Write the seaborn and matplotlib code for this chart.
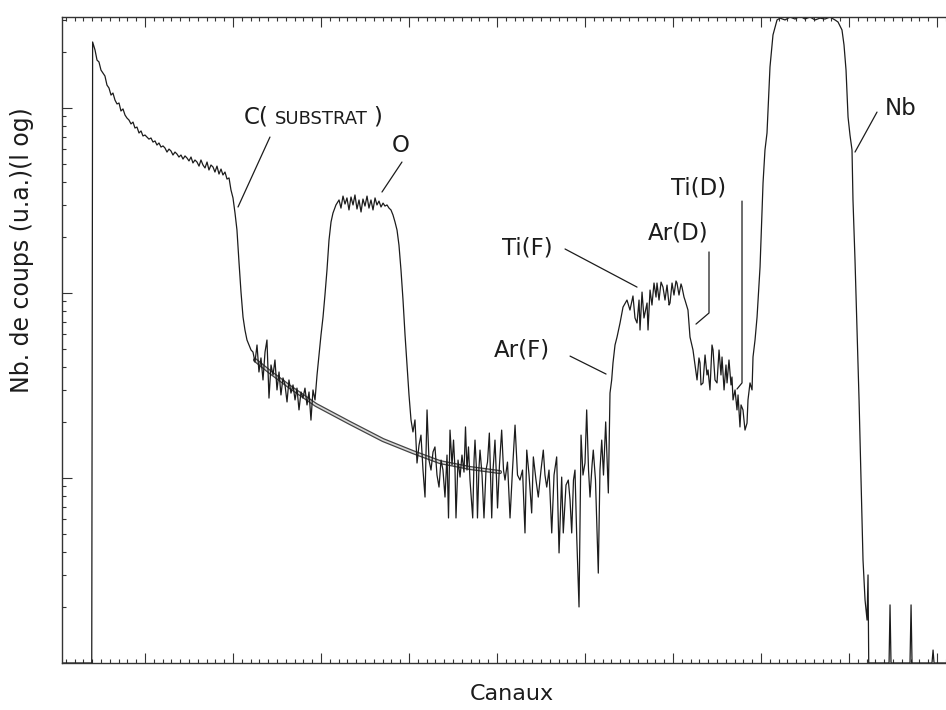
import numpy as np
import pandas as pd
import matplotlib
matplotlib.use("Agg")
import matplotlib.pyplot as plt
import seaborn as sns
from matplotlib.ticker import MultipleLocator, FixedLocator
from matplotlib.offsetbox import TextArea, HPacker, AnnotationBbox

# ---------------- data (channel, log10 counts, arbitrary units) ----------------
channels = [
    0, 39.5, 40.5, 43.2, 45.5, 47.7, 50.0, 52.3, 54.5, 56.8, 59.1, 61.4, 63.6, 65.9, 68.2,
    70.5, 72.7, 75.0, 77.3, 79.5, 81.8, 84.1, 86.4, 88.6, 90.9, 93.2, 95.5, 97.7, 100.0,
    102.3, 104.5, 106.8, 109.1, 111.4, 113.6, 115.9, 118.2, 120.5, 122.7, 125.0, 127.3,
    129.5, 131.8, 134.1, 136.4, 138.6, 140.9, 143.2, 145.5, 147.7, 150.0, 152.3, 154.5,
    156.8, 159.1, 161.4, 163.6, 165.9, 168.2, 170.5, 172.7, 175.0, 177.3, 179.5, 181.8,
    184.1, 186.4, 188.6, 190.9, 193.2, 195.5, 197.7, 200.0, 202.3, 204.5, 206.8, 209.1,
    211.4, 213.6, 215.9, 218.2, 220.5, 222.7,
    225.0, 227.3, 229.5, 231.8, 234.1, 236.4, 238.6, 240.9, 243.2, 245.5, 247.7, 250.0,
    252.3, 254.5, 256.8, 259.1, 261.4, 263.6, 265.9, 268.2, 270.5, 272.7, 275.0, 277.3,
    279.5, 281.8, 284.1, 286.4, 288.6, 290.9, 293.2,
    295.5, 297.7, 300.0, 302.3, 304.5, 306.8, 309.1, 311.4, 313.6, 317.0, 320.5, 322.7,
    325.0, 327.3, 329.5, 331.8, 334.1, 336.4, 338.6, 340.9, 343.2, 345.5, 347.7, 350.0,
    352.3, 354.5, 356.8, 359.1, 361.4, 363.6, 365.9, 368.2, 370.5, 372.7, 375.0, 377.3,
    379.5, 381.8, 384.1, 386.4, 388.6, 390.9, 393.2, 395.5, 397.7, 400.0, 402.3, 404.5,
    406.8, 409.1, 411.4, 413.6, 415.9, 418.2, 420.5, 422.7, 425.0, 427.3,
    429.5, 431.8, 434.1, 436.4, 438.6, 440.9, 443.2, 444.9, 446.6, 448.9,
    450.6, 452.3, 453.4, 455.7, 458.0, 460.2, 462.5, 464.2, 465.9, 467.6,
    469.3, 472.4, 473.9, 475.0, 476.7, 477.8, 479.5, 480.7, 483.0, 485.2,
    487.5, 489.2, 491.3, 494.0, 495.5, 497.7, 499.4, 500.6, 502.8, 505.3,
    507.4, 509.1, 511.9, 514.8, 517.6, 520.5, 523.3, 526.1, 529.0, 531.8,
    533.8, 536.4, 539.4, 541.3, 544.3, 546.9, 550.0, 552.6, 554.5, 556.5,
    559.1, 562.2, 564.8, 567.8, 570.5, 573.5, 575.3, 578.4, 581.0, 583.0,
    584.9, 586.9, 588.6, 590.6, 593.2, 595.5, 597.7, 600.0, 601.9, 604.0,
    605.7, 608.0, 609.4, 611.9, 615.1, 617.0, 619.0, 621.0, 623.5, 626.5,
    628.4, 630.3,
    631.8, 634.1, 636.4, 639.8, 643.2, 647.7, 651.1, 654.5, 656.8, 659.1,
    661.4, 662.5, 664.8, 667.0, 670.5, 671.6, 673.9, 676.1, 678.4, 680.7,
    681.8, 684.1, 686.4, 688.6, 690.9, 693.2, 695.5, 696.6, 698.9, 701.1,
    703.4, 704.5, 706.8, 709.1, 710.2, 712.5, 713.6, 717.0, 719.3, 722.7,
    725.0, 727.3, 729.5, 730.7, 731.8, 734.1, 736.4, 738.6, 739.8, 742.0,
    744.3, 745.5, 747.7, 750.0, 752.3, 754.5, 755.7, 758.0, 760.2, 761.4,
    763.6, 765.9, 767.0, 768.2, 770.5, 772.7, 773.9, 776.1, 777.3, 779.5,
    781.8, 784.1, 785.2, 787.5, 789.8, 790.9, 793.2, 795.5, 798.9, 802.3,
    804.5, 806.8, 810.2, 813.6, 818.2, 821.6, 827.3, 833.0, 838.6, 844.3,
    850.0, 855.7, 861.4, 867.0, 872.7, 878.4, 884.1, 887.5, 889.8, 892.0,
    894.3, 896.6, 898.9, 901.1, 903.4, 904.5, 906.8, 909.1, 911.4, 913.6,
    915.9, 918.2, 920.5, 921.6, 922.4,
    945.5, 946.6, 947.7, 969.3, 970.5, 971.6, 994.3, 995.5, 996.6, 1012,
]

log_counts = [
    0, 0, 3.357, 3.314, 3.259, 3.249, 3.205, 3.189, 3.173, 3.124, 3.108, 3.070, 3.081,
    3.043, 3.022, 3.027, 2.984, 2.995, 2.962, 2.946, 2.935, 2.914, 2.924, 2.892, 2.897,
    2.865, 2.876, 2.849,
    2.854, 2.843, 2.832, 2.838, 2.816, 2.822, 2.800, 2.811, 2.789, 2.795, 2.784, 2.762,
    2.778, 2.768, 2.746, 2.762, 2.751, 2.735, 2.746, 2.724, 2.741, 2.730, 2.714, 2.735,
    2.703, 2.719, 2.708, 2.686, 2.719, 2.692, 2.676, 2.708, 2.665, 2.692, 2.681, 2.654,
    2.686, 2.643, 2.670, 2.638, 2.654, 2.616,
    2.622, 2.557, 2.514, 2.432, 2.341, 2.168, 2.005, 1.870, 1.800, 1.746, 1.719, 1.692,
    1.681,
    1.627, 1.719, 1.573, 1.649, 1.530, 1.681, 1.746, 1.432, 1.611, 1.557, 1.638, 1.476,
    1.573, 1.449, 1.541, 1.503, 1.411, 1.530, 1.459, 1.503, 1.422, 1.486, 1.368, 1.465,
    1.432, 1.486, 1.395, 1.465, 1.313, 1.476, 1.422,
    1.557, 1.665, 1.773, 1.870, 1.989, 2.124, 2.286, 2.384, 2.432, 2.476, 2.503, 2.459,
    2.524, 2.481, 2.514, 2.449, 2.519, 2.476, 2.530, 2.454, 2.503, 2.438, 2.508, 2.470,
    2.524, 2.459, 2.503, 2.449, 2.514, 2.476, 2.497, 2.465, 2.486, 2.470, 2.476, 2.459,
    2.449, 2.422, 2.384, 2.340, 2.259, 2.124, 1.962, 1.773, 1.611, 1.449, 1.313, 1.249,
    1.314, 1.081, 1.178, 1.232, 1.043, 0.897, 1.368, 1.097, 1.043, 1.141,
    1.168, 1.016, 0.951, 1.097, 1.043, 0.897, 1.124, 0.784, 1.259, 1.070,
    1.205, 1.043, 0.784, 1.097, 1.005, 1.124, 1.032, 1.276, 1.043, 1.168,
    0.989, 0.784, 1.097, 1.205, 1.043, 0.784, 1.054, 1.151, 1.016, 0.784,
    1.043, 1.086, 1.243, 0.784, 1.043, 1.205, 1.000, 0.838, 1.070, 1.259,
    1.043, 0.989, 1.086, 0.784, 1.043, 1.286, 1.016, 0.989, 1.043, 0.703,
    1.151, 1.016, 0.811, 1.114, 0.989, 0.897, 1.043, 1.151, 1.016, 0.951,
    1.043, 0.703, 1.016, 1.114, 0.595, 1.005, 0.703, 0.962, 0.989, 0.881,
    0.703, 0.989, 1.043, 0.681, 0.303, 1.232, 1.016, 1.081, 1.368, 1.043,
    0.897, 1.070, 1.151, 0.989, 0.486, 1.043, 1.205, 1.016, 1.303, 0.919,
    1.459, 1.530,
    1.622, 1.719, 1.762, 1.838, 1.924, 1.962, 1.908, 1.984, 1.865, 1.838,
    1.962, 1.800, 2.005, 1.865, 1.946, 1.800, 2.016, 1.935, 2.054, 1.978,
    2.054, 1.962, 2.059, 2.032, 1.962, 2.043, 1.935, 1.946, 2.054, 1.989,
    2.065, 2.054, 1.989, 2.049, 2.032, 1.978, 1.962, 1.908, 1.762, 1.692,
    1.611, 1.530, 1.649, 1.622, 1.503, 1.514, 1.665, 1.557, 1.584, 1.476,
    1.719, 1.692, 1.530, 1.514, 1.692, 1.557, 1.654, 1.476, 1.611, 1.514,
    1.638, 1.503, 1.546, 1.422, 1.476, 1.368, 1.449, 1.276, 1.395, 1.368,
    1.259, 1.297, 1.422, 1.514, 1.476, 1.654, 1.746, 1.870, 2.141, 2.595,
    2.773, 2.865, 3.222, 3.395, 3.476, 3.486, 3.476, 3.492, 3.481, 3.497,
    3.481, 3.492, 3.476, 3.486, 3.481, 3.492, 3.476, 3.465, 3.443, 3.422,
    3.341, 3.205, 2.951, 2.854, 2.773, 2.503, 2.178, 1.800, 1.422, 0.989,
    0.557, 0.341, 0.232, 0.476, 0.0,
    0, 0.314, 0, 0, 0.314, 0, 0, 0.070, 0, 0,
]

# smooth substrate background (simulation) drawn under the O region
fit_channels = [225.0, 242.0, 264.8, 294.3, 333.0, 370.5, 404.5, 435.2, 469.3, 503.4]
fit_log_counts = [1.638, 1.573, 1.492, 1.395, 1.297, 1.205, 1.140, 1.086, 1.054, 1.032]

peak_labels = ["O", "Ti(F)", "Ar(F)", "Ar(D)", "Ti(D)", "Nb"]

# ---------------- figure ----------------
sns.set_theme(style="white")
plt.rcParams["font.family"] = ["DejaVu Sans"]
ink = "#1c1c1c"

fig = plt.figure(figsize=(9.46, 7.10), dpi=100)
ax = fig.add_axes([62 / 946, 47 / 710, 884 / 946, 646 / 710])

spec = pd.DataFrame({"Canaux": channels, "log": log_counts})
fit = pd.DataFrame({"Canaux": fit_channels, "log": fit_log_counts})

sns.lineplot(data=fit, x="Canaux", y="log", sort=False, estimator=None,
             color="#444444", lw=3.0, ax=ax)
sns.lineplot(data=fit, x="Canaux", y="log", sort=False, estimator=None,
             color="#d8d8d8", lw=1.2, ax=ax)
sns.lineplot(data=spec, x="Canaux", y="log", sort=False, estimator=None,
             color=ink, lw=0.9, ax=ax)

ax.set_xlim(5.7, 1010.2)
ax.set_ylim(0, 3.492)
ax.set_xlabel("")
ax.set_ylabel("")

for side in ["left", "top", "bottom"]:
    ax.spines[side].set_color("#333333")
    ax.spines[side].set_linewidth(1.0)
ax.spines["right"].set_visible(False)

ax.xaxis.set_major_locator(MultipleLocator(100))
ax.xaxis.set_minor_locator(MultipleLocator(10))
ax.yaxis.set_major_locator(FixedLocator([1, 2, 3]))
ax.yaxis.set_minor_locator(FixedLocator([n + np.log10(k) for n in range(4) for k in range(2, 10)]))
ax.tick_params(which="both", direction="in", top=True, bottom=True, left=True, right=False,
               labelbottom=False, labelleft=False, color="#333333", width=0.8)
ax.tick_params(which="major", length=7)
ax.tick_params(which="minor", length=3)

fs = 16.5
# C(SUBSTRAT) with small capitals
box = HPacker(children=[TextArea("C(", textprops=dict(fontsize=fs, color=ink)),
                        TextArea("SUBSTRAT", textprops=dict(fontsize=13, color=ink)),
                        TextArea(")", textprops=dict(fontsize=fs, color=ink))],
              align="baseline", pad=0, sep=4)
ax.add_artist(AnnotationBbox(box, (290.9, 2.951), xycoords="data", frameon=False,
                             box_alignment=(0.5, 0.5), pad=0))
ax.plot([242.0, 205.7], [2.843, 2.465], color=ink, lw=0.9)

label_pos = {"O": (390.9, 2.795), "Ti(F)": (534.1, 2.243), "Ar(F)": (528.4, 1.692),
             "Ar(D)": (705.7, 2.324), "Ti(D)": (729.5, 2.568), "Nb": (959.1, 2.995)}
leaders = {"O": ([392.0, 369.3], [2.708, 2.546]),
           "Ti(F)": ([577.3, 659.1], [2.238, 2.032]),
           "Ar(F)": ([583.0, 623.9], [1.659, 1.562]),
           "Ar(D)": ([740.9, 740.9, 726.1], [2.222, 1.892, 1.832]),
           "Ti(D)": ([778.4, 778.4, 772.7], [2.497, 1.514, 1.481]),
           "Nb": ([931.8, 906.8], [2.978, 2.762])}
for lab in peak_labels:
    x, y = label_pos[lab]
    ax.text(x, y, lab, ha="center", va="center", fontsize=fs, color=ink)
    lx, ly = leaders[lab]
    ax.plot(lx, ly, color=ink, lw=0.9)

fig.text(512 / 946, 1 - 694 / 710, "Canaux", ha="center", va="center", fontsize=16, color=ink)
fig.text(22 / 946, 1 - 250 / 710, "Nb. de coups (u.a.)(l og)", ha="center", va="center",
         rotation=90, fontsize=17, color=ink)

fig.savefig("out.png", dpi=100)
